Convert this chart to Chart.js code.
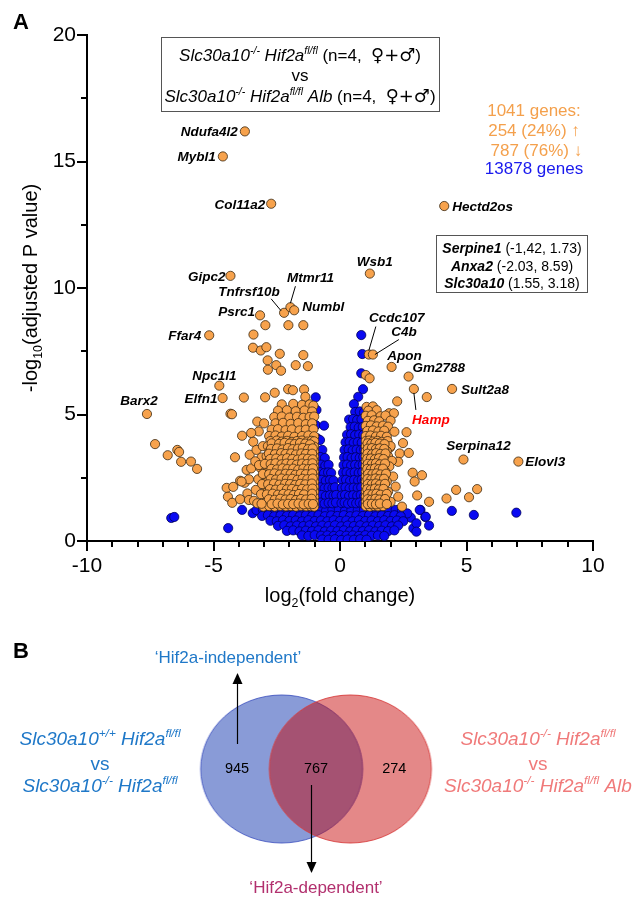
<!DOCTYPE html>
<html>
<head>
<meta charset="utf-8">
<script src="https://cdn.jsdelivr.net/npm/chart.js@4.4.1/dist/chart.umd.min.js"></script>
<style>
html, body { margin: 0; padding: 0; background: #fff; }
#wrap { position: relative; width: 633px; height: 898px; overflow: hidden; }
#volcano { position: absolute; left: 0; top: 0; }
#venn { position: absolute; left: 0; top: 640px; }
</style>
</head>
<body>
<div id="wrap">
<canvas id="volcano" width="633" height="640"></canvas>
<canvas id="venn" width="633" height="258"></canvas>
</div>
<script>
var FONT = '"Liberation Sans", Arial, Helvetica, sans-serif';
Chart.defaults.font.family = FONT;
Chart.defaults.color = '#000';

// significant, down (log2FC < -1, padj < 0.05)
var downGenes = [
  [-2.95,8.53],[-2.04,8.53],[-1.45,8.53],[-3.42,8.16],[-3.44,7.64],[-3.13,7.53],[-2.91,7.66],[-2.38,7.40],
  [-1.45,7.35],[-2.86,7.14],[-2.52,6.95],[-2.33,6.73],[-2.85,6.77],[-1.75,6.95],[-1.27,6.91],
  [-3.80,5.67],[-2.96,5.68],[-2.58,5.86],[-2.05,6.00],[-1.86,5.96],[-1.42,5.99],[-1.37,5.70],
  [-7.31,3.83],[-6.81,3.39],[-6.43,3.60],[-6.36,3.52],[-6.28,3.13],[-5.89,3.14],[-5.65,2.85],
  [-4.33,5.03],[-4.27,5.01],[-3.87,4.16],[-4.15,3.31],[-3.57,3.41],[-3.27,4.72],[-3.21,4.33],[-3.51,4.27],
  [-3.00,4.65],[-3.43,3.92],[-3.69,2.81],[-3.51,2.87],[-3.16,2.91],[-3.00,2.96],[-3.95,2.38],[-3.77,2.30],
  [-3.60,2.44],[-3.23,2.44],[-4.48,2.10],[-4.22,2.14],[-3.89,2.35],[-4.43,1.75],[-4.26,1.51],[-3.95,1.65],
  [-3.66,1.88],[-3.33,2.02],[-3.60,1.62],[-3.40,1.59],[-3.27,1.49],[-2.98,1.75],[-2.87,1.46],[-3.03,1.36],
  [-3.30,3.60],[-3.10,3.30],[-3.35,3.15],[-3.05,3.75],[-3.20,3.00],
  [-2.30,5.40],[-1.85,5.42],[-1.50,5.38],[-1.20,5.40],[-1.05,5.35],
  [-2.45,5.15],[-2.10,5.17],[-1.75,5.13],[-1.40,5.16],[-1.10,5.12],
  [-2.60,4.90],[-2.30,4.92],[-2.00,4.88],[-1.70,4.91],[-1.45,4.87],[-1.20,4.90],[-1.02,4.92],
  [-2.55,4.65],[-2.25,4.67],[-1.95,4.63],[-1.65,4.66],[-1.35,4.62],[-1.10,4.65],
  [-2.70,4.40],[-2.45,4.42],[-2.15,4.38],[-1.90,4.41],[-1.60,4.37],[-1.35,4.40],[-1.05,4.42],
  [-2.80,4.15],[-2.55,4.17],[-2.30,4.13],[-2.05,4.16],[-1.80,4.12],[-1.50,4.15],[-1.25,4.17],[-1.02,4.14],
  [-2.75,3.95],[-2.50,3.97],[-2.30,3.93],[-2.10,3.96],[-1.90,3.92],[-1.70,3.95],[-1.50,3.97],[-1.30,3.93],[-1.12,3.96],[-1.02,3.94],
  [-2.85,3.75],[-2.62,3.72],[-2.40,3.77],[-2.20,3.74],[-2.00,3.76],[-1.80,3.73],[-1.60,3.77],[-1.40,3.74],[-1.20,3.76],[-1.02,3.73],
  [-2.78,3.55],[-2.55,3.57],[-2.35,3.53],[-2.12,3.56],[-1.92,3.52],[-1.72,3.55],[-1.52,3.57],[-1.32,3.53],[-1.14,3.56],[-1.02,3.54],
  [-2.90,3.35],[-2.68,3.32],[-2.46,3.37],[-2.25,3.34],[-2.05,3.36],[-1.85,3.33],[-1.64,3.37],[-1.44,3.34],[-1.24,3.36],[-1.02,3.33],
  [-2.82,3.15],[-2.60,3.17],[-2.38,3.13],[-2.16,3.16],[-1.96,3.12],[-1.76,3.15],[-1.56,3.17],[-1.36,3.13],[-1.16,3.16],[-1.02,3.14],
  [-2.88,2.95],[-2.66,2.92],[-2.44,2.97],[-2.22,2.94],[-2.02,2.96],[-1.82,2.93],[-1.62,2.97],[-1.42,2.94],[-1.22,2.96],[-1.02,2.93],
  [-2.80,2.75],[-2.58,2.77],[-2.36,2.73],[-2.14,2.76],[-1.94,2.72],[-1.74,2.75],[-1.54,2.77],[-1.34,2.73],[-1.15,2.76],[-1.02,2.74],
  [-2.92,2.55],[-2.70,2.52],[-2.48,2.57],[-2.26,2.54],[-2.06,2.56],[-1.86,2.53],[-1.66,2.57],[-1.46,2.54],[-1.26,2.56],[-1.02,2.53],
  [-2.85,2.35],[-2.62,2.37],[-2.40,2.33],[-2.18,2.36],[-1.98,2.32],[-1.78,2.35],[-1.58,2.37],[-1.38,2.33],[-1.18,2.36],[-1.02,2.34],
  [-2.95,2.15],[-2.72,2.12],[-2.50,2.17],[-2.28,2.14],[-2.08,2.16],[-1.88,2.13],[-1.68,2.17],[-1.48,2.14],[-1.28,2.16],[-1.02,2.13],
  [-2.86,1.95],[-2.64,1.97],[-2.42,1.93],[-2.20,1.96],[-2.00,1.92],[-1.80,1.95],[-1.60,1.97],[-1.40,1.93],[-1.20,1.96],[-1.02,1.94],
  [-2.78,1.75],[-2.56,1.72],[-2.34,1.77],[-2.12,1.74],[-1.92,1.76],[-1.72,1.73],[-1.52,1.77],[-1.32,1.74],[-1.14,1.76],[-1.02,1.73],
  [-2.90,1.55],[-2.68,1.57],[-2.46,1.53],[-2.24,1.56],[-2.04,1.52],[-1.84,1.55],[-1.64,1.57],[-1.44,1.53],[-1.24,1.56],[-1.02,1.54],
  [-2.80,1.38],[-2.58,1.36],[-2.36,1.39],[-2.14,1.37],[-1.94,1.38],[-1.74,1.36],[-1.54,1.39],[-1.34,1.37],[-1.16,1.38],[-1.02,1.36],
  [-2.70,3.86],[-2.41,3.84],[-2.19,3.88],[-1.98,3.85],[-1.79,3.83],[-1.58,3.87],[-1.37,3.85],[-1.18,3.82],
  [-2.73,3.64],[-2.49,3.66],[-2.27,3.62],[-2.06,3.67],[-1.87,3.63],[-1.66,3.65],[-1.47,3.68],[-1.26,3.63],[-1.08,3.66],
  [-2.81,3.45],[-2.57,3.43],[-2.33,3.47],[-2.15,3.44],[-1.93,3.46],[-1.74,3.42],[-1.53,3.46],[-1.35,3.44],[-1.10,3.45],
  [-2.76,3.24],[-2.52,3.26],[-2.30,3.23],[-2.09,3.27],[-1.88,3.24],[-1.67,3.22],[-1.47,3.26],[-1.27,3.25],[-1.08,3.23],
  [-2.97,3.05],[-2.74,3.04],[-2.55,3.07],[-2.31,3.03],[-2.12,3.06],[-1.91,3.05],[-1.71,3.02],[-1.50,3.06],[-1.31,3.04],[-1.09,3.07],
  [-2.71,2.85],[-2.49,2.83],[-2.27,2.87],[-2.08,2.84],[-1.85,2.86],[-1.65,2.82],[-1.45,2.86],[-1.25,2.84],[-1.07,2.87],
  [-3.05,2.65],[-2.80,2.64],[-2.59,2.67],[-2.37,2.63],[-2.15,2.66],[-1.95,2.65],[-1.76,2.62],[-1.55,2.66],[-1.35,2.64],[-1.10,2.67],
  [-2.74,2.45],[-2.53,2.43],[-2.31,2.47],[-2.10,2.44],[-1.89,2.46],[-1.68,2.42],[-1.48,2.46],[-1.29,2.44],[-1.08,2.47],
  [-3.08,2.25],[-2.84,2.24],[-2.61,2.27],[-2.39,2.23],[-2.17,2.26],[-1.97,2.25],[-1.77,2.22],[-1.57,2.26],[-1.37,2.24],[-1.11,2.27],
  [-2.77,2.05],[-2.54,2.03],[-2.31,2.07],[-2.10,2.04],[-1.90,2.06],[-1.70,2.02],[-1.50,2.06],[-1.30,2.04],[-1.09,2.07],
  [-3.12,1.85],[-2.89,1.84],[-2.66,1.87],[-2.45,1.83],[-2.24,1.86],[-2.03,1.85],[-1.83,1.82],[-1.62,1.86],[-1.42,1.84],[-1.10,1.87],
  [-2.81,1.65],[-2.58,1.63],[-2.36,1.67],[-2.15,1.64],[-1.95,1.66],[-1.74,1.62],[-1.54,1.66],[-1.34,1.64],[-1.12,1.67],
  [-3.10,1.47],[-2.70,1.46],[-2.47,1.48],[-2.26,1.45],[-2.05,1.47],[-1.85,1.46],[-1.64,1.48],[-1.44,1.45],[-1.24,1.47],[-1.07,1.46]
];

// significant, up (log2FC > 1, padj < 0.05)
var upGenes = [
  [1.02,6.56],[1.17,6.43],[2.26,5.52],[3.43,5.69],[2.63,4.30],[2.49,3.87],[2.36,3.46],[2.72,3.48],
  [1.98,3.70],[2.30,3.13],[2.87,2.70],[3.24,2.60],[2.95,2.35],[3.05,1.80],[3.52,1.55],[4.21,1.68],
  [4.59,2.02],[5.10,1.73],[5.42,2.05],
  [1.05,5.30],[1.30,5.32],[1.12,5.15],[1.45,5.17],[1.94,5.05],[2.13,5.05],
  [1.02,4.95],[1.25,4.97],[1.60,4.93],[1.80,4.96],
  [1.10,4.75],[1.35,4.77],[1.55,4.73],[2.00,4.76],
  [1.02,4.55],[1.22,4.57],[1.45,4.53],[1.70,4.56],[1.90,4.52],
  [1.08,4.35],[1.30,4.37],[1.52,4.33],[1.75,4.36],[2.15,4.32],
  [1.02,4.15],[1.20,4.17],[1.42,4.13],[1.62,4.16],[1.85,4.12],
  [1.02,3.95],[1.15,3.97],[1.30,3.93],[1.48,3.96],[1.65,3.92],[1.88,3.95],
  [1.02,3.75],[1.18,3.77],[1.34,3.73],[1.50,3.76],[1.68,3.72],[2.00,3.75],
  [1.02,3.55],[1.16,3.57],[1.32,3.53],[1.48,3.56],[1.64,3.52],[1.85,3.55],
  [1.02,3.35],[1.20,3.37],[1.36,3.33],[1.52,3.36],[1.70,3.32],[1.90,3.35],
  [1.02,3.15],[1.15,3.17],[1.30,3.13],[1.46,3.16],[1.62,3.12],[1.80,3.15],[2.05,3.17],
  [1.02,2.95],[1.18,2.97],[1.34,2.93],[1.50,2.96],[1.66,2.92],[1.95,2.95],
  [1.02,2.75],[1.14,2.77],[1.30,2.73],[1.46,2.76],[1.62,2.72],[1.78,2.75],
  [1.02,2.55],[1.20,2.57],[1.36,2.53],[1.52,2.56],[1.70,2.52],[2.10,2.55],
  [1.02,2.35],[1.16,2.37],[1.32,2.33],[1.48,2.36],[1.64,2.32],[1.85,2.35],
  [1.02,2.15],[1.18,2.17],[1.34,2.13],[1.50,2.16],[1.68,2.12],[2.20,2.15],
  [1.02,1.95],[1.15,1.97],[1.30,1.93],[1.46,1.96],[1.62,1.92],[1.90,1.95],
  [1.02,1.75],[1.20,1.77],[1.36,1.73],[1.52,1.76],[1.75,1.72],[2.30,1.75],
  [1.02,1.55],[1.16,1.57],[1.32,1.53],[1.48,1.56],[1.65,1.52],[2.00,1.55],
  [1.02,1.38],[1.18,1.36],[1.34,1.39],[1.50,1.37],[1.70,1.38],[2.45,1.36],
  [1.09,3.86],[1.24,3.84],[1.40,3.88],[1.57,3.85],[1.76,3.83],
  [1.10,3.65],[1.26,3.67],[1.42,3.63],[1.57,3.66],[1.75,3.64],
  [1.09,3.45],[1.27,3.43],[1.43,3.47],[1.60,3.44],[1.80,3.46],
  [1.08,3.25],[1.22,3.26],[1.38,3.23],[1.54,3.27],[1.72,3.24],
  [1.10,3.05],[1.26,3.04],[1.42,3.07],[1.58,3.03],[1.78,3.06],
  [1.08,2.85],[1.22,2.83],[1.38,2.87],[1.54,2.84],[1.70,2.86],
  [1.11,2.65],[1.28,2.64],[1.44,2.67],[1.60,2.63],[1.82,2.66],
  [1.09,2.45],[1.24,2.43],[1.40,2.47],[1.56,2.44],[1.74,2.46],
  [1.10,2.25],[1.26,2.24],[1.42,2.27],[1.58,2.23],[1.78,2.26],
  [1.08,2.05],[1.22,2.03],[1.38,2.07],[1.54,2.04],[1.72,2.06],
  [1.11,1.85],[1.28,1.84],[1.44,1.87],[1.60,1.83],[1.85,1.86],
  [1.09,1.65],[1.24,1.63],[1.40,1.67],[1.56,1.64],[1.78,1.66],
  [1.10,1.46],[1.26,1.47],[1.42,1.45],[1.58,1.48],[1.85,1.46]
];

// not significant
var otherGenes = [
  [-6.67,0.91],[-6.55,0.95],[-4.42,0.51],[-3.87,1.23],[-3.45,1.10],
  [4.42,1.19],[5.29,1.03],[6.97,1.12],[3.18,1.23],[3.37,0.95],[2.90,0.50],[2.80,0.92],
  [-3.30,1.22],[-3.05,1.24],[-2.80,1.20],[-2.55,1.23],[-2.30,1.21],[-2.05,1.24],[-1.80,1.20],[-1.55,1.22],
  [-1.30,1.24],[-1.05,1.21],[-0.80,1.23],[-0.55,1.20],[-0.30,1.24],[-0.05,1.22],[0.20,1.20],[0.45,1.23],
  [0.70,1.21],[0.95,1.24],[1.20,1.20],[1.45,1.22],[1.70,1.24],[1.95,1.21],[2.20,1.23],[2.45,1.20],[2.66,1.09],[3.15,1.23],
  [-3.08,0.99],[-2.85,1.02],[-2.60,0.98],[-2.35,1.01],[-2.10,0.99],[-1.85,1.02],[-1.60,0.98],[-1.35,1.01],
  [-1.10,0.99],[-0.85,1.02],[-0.60,0.98],[-0.35,1.01],[-0.10,0.99],[0.15,1.02],[0.40,0.98],[0.65,1.01],
  [0.90,0.99],[1.15,1.02],[1.40,0.98],[1.65,1.01],[1.90,0.99],[2.15,1.02],[2.40,0.98],[3.39,0.96],
  [-2.75,0.80],[-2.50,0.78],[-2.25,0.82],[-2.00,0.79],[-1.75,0.81],[-1.50,0.78],[-1.25,0.82],[-1.00,0.79],
  [-0.75,0.81],[-0.50,0.78],[-0.25,0.82],[0.00,0.79],[0.25,0.81],[0.50,0.78],[0.75,0.82],[1.00,0.79],
  [1.25,0.81],[1.50,0.78],[1.75,0.82],[2.00,0.79],[2.25,0.81],[2.50,0.78],[3.02,0.70],
  [-2.45,0.60],[-2.20,0.62],[-1.95,0.58],[-1.70,0.61],[-1.45,0.59],[-1.20,0.62],[-0.95,0.58],[-0.70,0.61],
  [-0.45,0.59],[-0.20,0.62],[0.05,0.58],[0.30,0.61],[0.55,0.59],[0.80,0.62],[1.05,0.58],[1.30,0.61],
  [1.55,0.59],[1.80,0.62],[2.05,0.58],[2.30,0.61],[3.52,0.61],
  [-2.10,0.40],[-1.85,0.42],[-1.60,0.38],[-1.35,0.41],[-1.10,0.39],[-0.85,0.42],[-0.60,0.38],[-0.35,0.41],
  [-0.10,0.39],[0.15,0.42],[0.40,0.38],[0.65,0.41],[0.90,0.39],[1.15,0.42],[1.40,0.38],[1.65,0.41],
  [1.90,0.39],[2.15,0.42],[3.02,0.37],
  [-1.50,0.22],[-1.25,0.20],[-1.00,0.23],[-0.75,0.21],[-0.50,0.22],[-0.25,0.20],[0.00,0.23],[0.25,0.21],
  [0.50,0.22],[0.75,0.20],[1.00,0.23],[1.25,0.21],[1.50,0.22],[1.75,0.20],
  [-0.70,0.06],[-0.45,0.05],[-0.20,0.07],[0.05,0.04],[0.30,0.06],[0.55,0.05],[0.80,0.07],[1.05,0.05],
  [-0.96,5.68],[-0.93,5.18],[-0.96,4.58],[-0.63,4.56],[-0.90,4.06],[-0.79,3.99],[-0.95,3.60],[-0.70,3.60],
  [-0.95,3.30],[-0.78,3.32],[-0.60,3.28],
  [-0.92,3.00],[-0.75,3.02],[-0.58,2.98],[-0.45,3.01],
  [-0.96,2.70],[-0.80,2.72],[-0.63,2.68],[-0.47,2.71],[-0.35,2.69],
  [-0.90,2.40],[-0.73,2.42],[-0.56,2.38],[-0.40,2.41],[-0.26,2.39],
  [-0.95,2.10],[-0.78,2.12],[-0.61,2.08],[-0.45,2.11],[-0.30,2.09],[-0.20,2.12],
  [-0.90,1.80],[-0.73,1.82],[-0.56,1.78],[-0.40,1.81],[-0.26,1.79],[-0.15,1.82],
  [-0.95,1.50],[-0.78,1.52],[-0.61,1.48],[-0.45,1.51],[-0.30,1.49],[-0.16,1.52],
  [0.84,8.14],[0.88,7.39],[0.84,6.63],[0.91,6.00],[0.72,5.70],[0.55,5.41],
  [0.60,5.10],[0.78,5.12],[0.95,5.08],
  [0.36,4.80],[0.52,4.82],[0.68,4.78],[0.85,4.81],
  [0.42,4.50],[0.58,4.52],[0.74,4.48],[0.90,4.51],
  [0.28,4.20],[0.44,4.22],[0.60,4.18],[0.76,4.21],[0.92,4.19],
  [0.22,3.90],[0.38,3.92],[0.54,3.88],[0.70,3.91],[0.86,3.89],
  [0.18,3.60],[0.34,3.62],[0.50,3.58],[0.66,3.61],[0.82,3.59],[0.96,3.62],
  [0.16,3.30],[0.30,3.32],[0.46,3.28],[0.62,3.31],[0.78,3.29],[0.92,3.32],
  [0.14,3.00],[0.28,3.02],[0.44,2.98],[0.60,3.01],[0.76,2.99],[0.90,3.02],
  [0.12,2.70],[0.26,2.72],[0.42,2.68],[0.58,2.71],[0.74,2.69],[0.88,2.72],
  [0.10,2.40],[0.24,2.42],[0.40,2.38],[0.56,2.41],[0.72,2.39],[0.86,2.42],[0.98,2.38],
  [0.08,2.10],[0.22,2.12],[0.38,2.08],[0.54,2.11],[0.70,2.09],[0.84,2.12],
  [0.07,1.80],[0.20,1.82],[0.36,1.78],[0.52,1.81],[0.68,1.79],[0.82,1.82],[0.96,1.78],
  [0.06,1.50],[0.18,1.52],[0.32,1.48],[0.48,1.51],[0.64,1.49],[0.78,1.52],[0.92,1.48]
];

// named genes
var labelNames = ['Ndufa4l2','Mybl1','Col11a2','Gipc2','Tnfrsf10b','Mtmr11','Numbl','Psrc1','Ffar4','Npc1l1','Elfn1','Barx2',
                  'Hectd2os','Wsb1','Ccdc107','C4b','Apon','Gm2788','Hamp','Sult2a8','Serpina12','Elovl3'];
var labelX = [-3.76,-4.63,-2.72,-4.33,-2.21,-1.96,-1.81,-3.16,-5.17,-4.77,-4.64,-7.63,
              4.12,1.18,1.14,1.30,2.04,2.71,2.92,4.43,4.88,7.05];
var labelY = [16.19,15.20,13.33,10.48,9.02,9.24,9.12,8.92,8.13,6.14,5.65,5.02,
              13.24,10.57,7.37,7.37,6.88,6.50,6.01,6.01,3.22,3.14];

var xTickValues = [-10, -5, 0, 5, 10];
var yTickValues = [0, 5, 10, 15, 20];

var summaryLines = ['1041 genes:', '254 (24%) \u2191', ' 787 (76%) \u2193', '13878 genes'];
var highlightGenes = ['Serpine1', 'Anxa2', 'Slc30a10'];
var highlightValues = [' (-1,42, 1.73)', ' (-2.03, 8.59)', ' (1.55, 3.18)'];

var vennCounts = [945, 767, 274];

// label placement (px offsets from the point)
var labelLayout = {
  Ndufa4l2: {a: 'right', dx: -7, dy: 0},
  Mybl1: {a: 'right', dx: -7, dy: 0},
  Col11a2: {a: 'right', dx: -6, dy: 0},
  Gipc2: {a: 'right', dx: -5, dy: 0},
  Psrc1: {a: 'right', dx: -5, dy: -4},
  Ffar4: {a: 'right', dx: -8, dy: 0},
  Npc1l1: {a: 'center', dx: -5, dy: -11},
  Elfn1: {a: 'right', dx: -5, dy: 0},
  Barx2: {a: 'center', dx: -8, dy: -14},
  Tnfrsf10b: {a: 'center', dx: -35, dy: -22, line: [-3, -2, -13, -14]},
  Mtmr11: {a: 'center', dx: 20, dy: -30, line: [0, -4, 5, -21]},
  Numbl: {a: 'left', dx: 8, dy: -4},
  Wsb1: {a: 'center', dx: 5, dy: -12},
  Hectd2os: {a: 'left', dx: 8, dy: 0},
  Ccdc107: {a: 'center', dx: 28, dy: -37, line: [0, -4, 7, -28]},
  C4b: {a: 'center', dx: 31, dy: -23, line: [2, 0, 26, -15]},
  Apon: {a: 'center', dx: 13, dy: -12},
  Gm2788: {a: 'left', dx: 4, dy: -9},
  Hamp: {a: 'center', dx: 17, dy: 30, line: [0, 4, 2, 21], color: '#ff0000'},
  Sult2a8: {a: 'left', dx: 9, dy: 0},
  Serpina12: {a: 'center', dx: 15, dy: -14},
  Elovl3: {a: 'left', dx: 7, dy: 0}
};

function toXY(p) { return {x: p[0], y: p[1]}; }

var sigPoints = downGenes.map(toXY).concat(upGenes.map(toXY));
labelNames.forEach(function(n, i) { sigPoints.push({x: labelX[i], y: labelY[i]}); });
var nsPoints = otherGenes.map(toXY);

function fontStr(run, size) {
  var s = (run.sup || run.sub) ? size * 0.62 : size * (run.k || 1);
  var f = run.f || '';
  return (f.indexOf('i') >= 0 ? 'italic ' : '') + (f.indexOf('b') >= 0 ? 'bold ' : '') + s.toFixed(1) + 'px ' + (run.ff || FONT);
}
function drawRich(ctx, runs, x, y, size, color, align) {
  ctx.save();
  ctx.textBaseline = 'alphabetic';
  ctx.textAlign = 'left';
  var w = 0;
  runs.forEach(function(r) { ctx.font = fontStr(r, size); w += ctx.measureText(r.t).width; });
  var sx = align === 'left' ? x : (align === 'right' ? x - w : x - w / 2);
  var base = y + size * 0.36;
  runs.forEach(function(r) {
    ctx.font = fontStr(r, size);
    ctx.fillStyle = r.c || color;
    var by = base + (r.sup ? -size * 0.4 : (r.sub ? size * 0.24 : 0));
    ctx.fillText(r.t, sx, by);
    sx += ctx.measureText(r.t).width;
  });
  ctx.restore();
}
function line(ctx, x1, y1, x2, y2) {
  ctx.beginPath(); ctx.moveTo(x1, y1); ctx.lineTo(x2, y2); ctx.stroke();
}

var minorTicks = {
  id: 'minorTicks',
  afterDraw: function(chart) {
    var ctx = chart.ctx, xs = chart.scales.x, ys = chart.scales.y, a = chart.chartArea;
    ctx.save();
    ctx.strokeStyle = '#000';
    ctx.lineWidth = 2;
    for (var v = -9; v <= 9; v++) {
      if (v % 5 === 0) continue;
      var px = Math.round(xs.getPixelForValue(v));
      line(ctx, px, a.bottom, px, a.bottom + 6);
    }
    [2.5, 7.5, 12.5, 17.5].forEach(function(v) {
      var py = Math.round(ys.getPixelForValue(v));
      line(ctx, a.left - 6, py, a.left, py);
    });
    ctx.restore();
  }
};

var SEXES = '"DejaVu Sans", sans-serif';

var annotations = {
  id: 'annotations',
  afterDraw: function(chart) {
    var ctx = chart.ctx, xs = chart.scales.x, ys = chart.scales.y, a = chart.chartArea;
    ctx.save();

    // panel letter
    drawRich(ctx, [{t: 'A', f: 'b'}], 21, 21, 22, '#000', 'center');

    // axis titles
    drawRich(ctx, [{t: 'log'}, {t: '2', sub: 1}, {t: '(fold change)'}], (a.left + a.right) / 2, 595, 20, '#000', 'center');
    ctx.save();
    ctx.translate(30, (a.top + a.bottom) / 2);
    ctx.rotate(-Math.PI / 2);
    drawRich(ctx, [{t: '-log'}, {t: '10', sub: 1}, {t: '(adjusted P value)'}], 0, 0, 20, '#000', 'center');
    ctx.restore();

    // comparison box
    ctx.strokeStyle = '#555';
    ctx.lineWidth = 1;
    ctx.strokeRect(161.5, 37.5, 278, 74);
    var sym = [{t: ' (n=4,  '}, {t: '\u2640+\u2642', ff: SEXES, k: 1.05}, {t: ')'}];
    drawRich(ctx, [{t: 'Slc30a10', f: 'i'}, {t: '-/-', f: 'i', sup: 1}, {t: ' Hif2a', f: 'i'}, {t: 'fl/fl', f: 'i', sup: 1}].concat(sym), 300, 55, 17, '#000', 'center');
    drawRich(ctx, [{t: 'vs'}], 300, 75, 17, '#000', 'center');
    drawRich(ctx, [{t: 'Slc30a10', f: 'i'}, {t: '-/-', f: 'i', sup: 1}, {t: ' Hif2a', f: 'i'}, {t: 'fl/fl', f: 'i', sup: 1}, {t: ' Alb', f: 'i'}].concat(sym), 300, 96, 17, '#000', 'center');

    // gene counts
    var cy = [110, 130, 150, 168];
    summaryLines.forEach(function(s, i) {
      drawRich(ctx, [{t: s}], 534, cy[i], 17, i < 3 ? '#f4a04c' : '#1a1aee', 'center');
    });

    // highlighted genes box
    ctx.strokeStyle = '#555';
    ctx.strokeRect(436.5, 235.5, 151, 57);
    var hy = [248, 265.5, 283];
    highlightGenes.forEach(function(g, i) {
      drawRich(ctx, [{t: g, f: 'bi'}, {t: highlightValues[i]}], 512, hy[i], 14, '#000', 'center');
    });

    // gene labels
    ctx.strokeStyle = '#000';
    ctx.lineWidth = 1;
    labelNames.forEach(function(n, i) {
      var L = labelLayout[n];
      var px = xs.getPixelForValue(labelX[i]), py = ys.getPixelForValue(labelY[i]);
      if (L.line) line(ctx, px + L.line[0], py + L.line[1], px + L.line[2], py + L.line[3]);
      drawRich(ctx, [{t: n, f: 'bi'}], px + L.dx, py + L.dy, 13.5, L.color || '#000', L.a);
    });
    ctx.restore();
  }
};

new Chart(document.getElementById('volcano'), {
  type: 'scatter',
  data: {
    datasets: [
      {
        label: 'padj < 0.05, |log2FC| > 1',
        data: sigPoints,
        backgroundColor: '#f7a24c',
        borderColor: '#3b2810',
        borderWidth: 0.8,
        pointRadius: 4.6
      },
      {
        label: 'not significant',
        data: nsPoints,
        backgroundColor: '#0a0af2',
        borderColor: '#00005a',
        borderWidth: 0.8,
        pointRadius: 4.6
      }
    ]
  },
  options: {
    responsive: false,
    animation: false,
    events: [],
    layout: {padding: {top: 35, right: 40, left: 0, bottom: 0}},
    plugins: {legend: {display: false}, tooltip: {enabled: false}},
    scales: {
      x: {
        type: 'linear', min: -10, max: 10,
        afterFit: function(s) { s.height = 99; },
        afterBuildTicks: function(s) { s.ticks = xTickValues.map(function(v) { return {value: v}; }); },
        ticks: {font: {size: 21}, padding: 3, color: '#000', maxRotation: 0},
        grid: {drawOnChartArea: false, color: '#000', lineWidth: 2, tickLength: 10},
        border: {color: '#000', width: 2}
      },
      y: {
        type: 'linear', min: 0, max: 20,
        afterFit: function(s) { s.width = 87; },
        afterBuildTicks: function(s) { s.ticks = yTickValues.map(function(v) { return {value: v}; }); },
        ticks: {font: {size: 21}, padding: 1, color: '#000'},
        grid: {drawOnChartArea: false, color: '#000', lineWidth: 2, tickLength: 10},
        border: {color: '#000', width: 2}
      }
    }
  },
  plugins: [minorTicks, annotations]
});

// ---- Venn diagram ----
function ellipseStyle(fill, stroke) {
  var c = document.createElement('canvas');
  c.width = 166; c.height = 152;
  var g = c.getContext('2d');
  g.beginPath();
  g.ellipse(83, 76, 81, 74, 0, 0, Math.PI * 2);
  g.fillStyle = fill;
  g.fill();
  g.lineWidth = 1;
  g.strokeStyle = stroke;
  g.stroke();
  return c;
}

var vennText = {
  id: 'vennText',
  afterDraw: function(chart) {
    var ctx = chart.ctx, xs = chart.scales.x, ys = chart.scales.y;
    var cy = ys.getPixelForValue(0);
    var lx = [xs.getPixelForValue(-1.15), xs.getPixelForValue(0), xs.getPixelForValue(1.14)];
    ctx.save();
    drawRich(ctx, [{t: 'B', f: 'b'}], 21, 10, 22, '#000', 'center');
    vennCounts.forEach(function(c, i) {
      drawRich(ctx, [{t: String(c)}], lx[i], cy - 1, 14.5, '#000', 'center');
    });
    var blue = '#1f78c8', pink = '#f07a7a';
    drawRich(ctx, [{t: 'Slc30a10', f: 'i'}, {t: '+/+', f: 'i', sup: 1}, {t: ' Hif2a', f: 'i'}, {t: 'fl/fl', f: 'i', sup: 1}], 100, 98, 19, blue, 'center');
    drawRich(ctx, [{t: 'vs'}], 100, 123, 19, blue, 'center');
    drawRich(ctx, [{t: 'Slc30a10', f: 'i'}, {t: '-/-', f: 'i', sup: 1}, {t: ' Hif2a', f: 'i'}, {t: 'fl/fl', f: 'i', sup: 1}], 100, 145, 19, blue, 'center');
    drawRich(ctx, [{t: 'Slc30a10', f: 'i'}, {t: '-/-', f: 'i', sup: 1}, {t: ' Hif2a', f: 'i'}, {t: 'fl/fl', f: 'i', sup: 1}], 538, 98, 19, pink, 'center');
    drawRich(ctx, [{t: 'vs'}], 538, 123, 19, pink, 'center');
    drawRich(ctx, [{t: 'Slc30a10', f: 'i'}, {t: '-/-', f: 'i', sup: 1}, {t: ' Hif2a', f: 'i'}, {t: 'fl/fl', f: 'i', sup: 1}, {t: ' Alb', f: 'i'}], 538, 145, 19, pink, 'center');

    drawRich(ctx, [{t: '\u2018Hif2a-independent\u2019'}], 228, 17, 17, blue, 'center');
    drawRich(ctx, [{t: '\u2018Hif2a-dependent\u2019'}], 316, 247, 17, '#b2306e', 'center');

    // arrows
    ctx.strokeStyle = '#000';
    ctx.fillStyle = '#000';
    ctx.lineWidth = 1.2;
    var ax = Math.round(lx[0]) + 0.5;
    line(ctx, ax, cy - 25, ax, 42);
    ctx.beginPath(); ctx.moveTo(ax, 33); ctx.lineTo(ax - 5, 44); ctx.lineTo(ax + 5, 44); ctx.closePath(); ctx.fill();
    var bx = Math.round(xs.getPixelForValue(-0.07)) + 0.5;
    line(ctx, bx, cy + 16, bx, 224);
    ctx.beginPath(); ctx.moveTo(bx, 233); ctx.lineTo(bx - 5, 222); ctx.lineTo(bx + 5, 222); ctx.closePath(); ctx.fill();
    ctx.restore();
  }
};

new Chart(document.getElementById('venn'), {
  type: 'scatter',
  data: {
    datasets: [{
      label: 'Venn',
      data: [{x: -0.5, y: 0}, {x: 0.5, y: 0}],
      pointStyle: [ellipseStyle('rgba(20,55,175,0.5)', 'rgba(60,80,190,0.85)'), ellipseStyle('rgba(198,2,2,0.47)', 'rgba(215,60,60,0.9)')],
      pointRadius: 5
    }]
  },
  options: {
    responsive: false,
    animation: false,
    events: [],
    layout: {padding: 0},
    plugins: {legend: {display: false}, tooltip: {enabled: false}},
    scales: {
      x: {display: false, min: -4.514, max: 4.529},
      y: {display: false, min: -1, max: 1}
    }
  },
  plugins: [vennText]
});
</script>
</body>
</html>
